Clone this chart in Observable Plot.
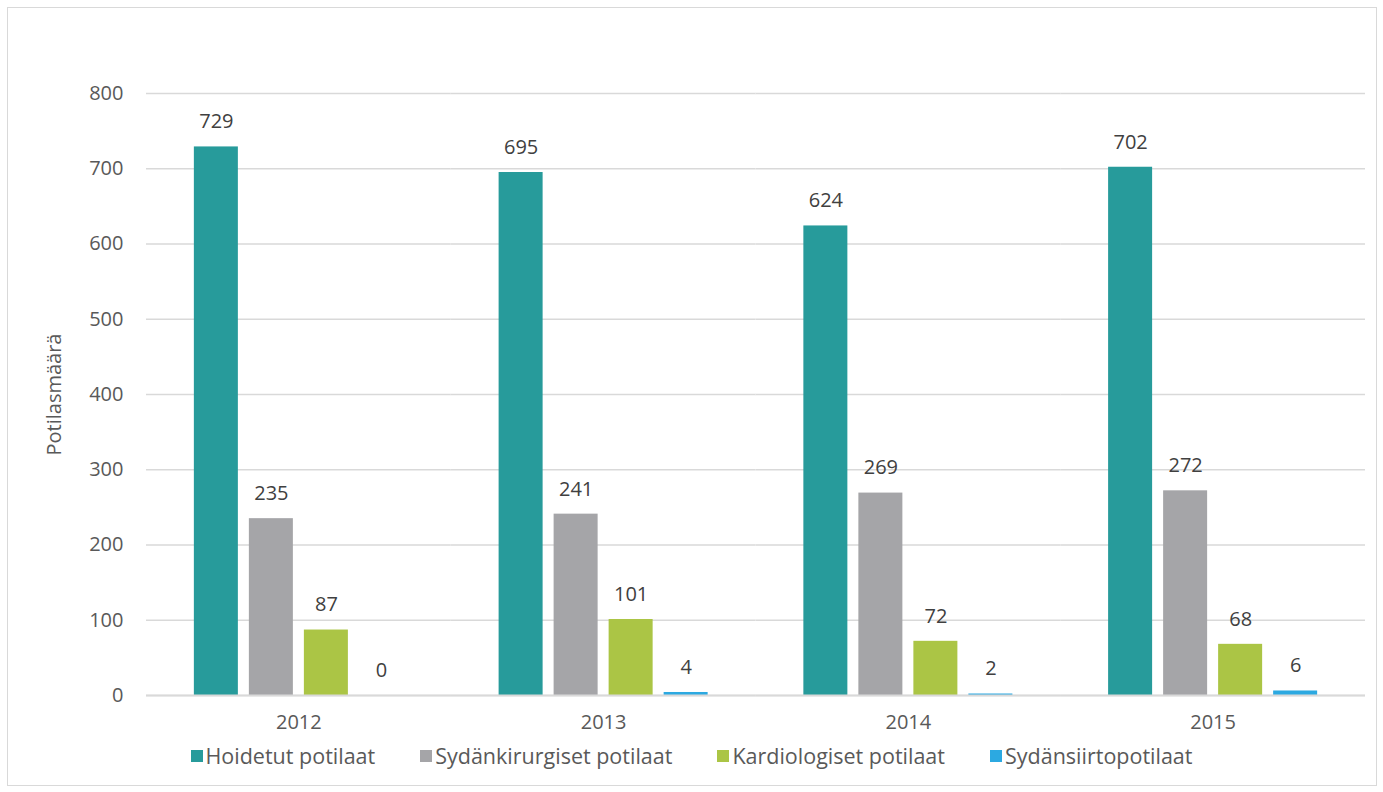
<!DOCTYPE html>
<html><head><meta charset="utf-8">
<script src="https://cdn.jsdelivr.net/npm/d3@7"></script>
<script src="https://cdn.jsdelivr.net/npm/@observablehq/plot@0.6"></script>
<style>
body{margin:0;background:#fff;font-family:"Open Sans",Lato,sans-serif;}
#wrap{position:relative;width:1383px;height:792px;overflow:hidden;}
#frame{position:absolute;left:7px;top:7px;width:1368px;height:777px;border:1.5px solid #d9d9d9;pointer-events:none;}
#legend{display:flex;justify-content:center;gap:45px;font-size:21.5px;color:#595959;padding-top:3px;line-height:26px;}
#legend .item{display:flex;align-items:center;}
#legend .sw{width:12px;height:12px;margin-right:3px;display:inline-block;}
</style></head><body>
<div id="wrap"><div id="chart"></div><div id="legend"></div><div id="frame"></div></div>
<script>
const years = ["2012", "2013", "2014", "2015"];
const series = ["Hoidetut potilaat", "Sydänkirurgiset potilaat", "Kardiologiset potilaat", "Sydänsiirtopotilaat"];
const hoidetut = [729, 695, 624, 702];
const kirurgiset = [235, 241, 269, 272];
const kardiologiset = [87, 101, 72, 68];
const siirto = [0, 4, 2, 6];
const colors = ["#279B9B", "#A5A5A8", "#ABC545", "#2CA9E1"];
const yTicks = [0, 100, 200, 300, 400, 500, 600, 700, 800];

const valuesBySeries = [hoidetut, kirurgiset, kardiologiset, siirto];
const data = [];
years.forEach((yr, i) => series.forEach((s, j) => data.push({year: yr, series: s, value: valuesBySeries[j][i]})));

const plot = Plot.plot({
  width: 1383, height: 740,
  marginLeft: 146, marginRight: 18, marginTop: 93, marginBottom: 45,
  style: {fontFamily: "'Open Sans', Lato, sans-serif", fontSize: "20px", color: "#595959", background: "transparent"},
  fx: {domain: years, padding: 0, label: null, round: false, axis: null},
  x: {domain: series, paddingInner: 0.2, paddingOuter: 0.87, axis: null, round: false},
  y: {domain: [0, 800]},
  color: {domain: series, range: colors},
  marks: [
    Plot.gridY(yTicks, {stroke: "#d9d9d9", strokeOpacity: 1, strokeWidth: 1.3}),
    Plot.axisY(yTicks, {tickSize: 0, tickPadding: 23, label: "Potilasmäärä", labelAnchor: "center", labelArrow: "none", labelOffset: 100, fontSize: 20, fill: "#595959"}),
    Plot.axisFx({anchor: "bottom", tickSize: 0, tickPadding: 19, fontSize: 20, label: null, fill: "#595959"}),
    Plot.barY(data, {fx: "year", x: "series", y: "value", fill: "series"}),
    Plot.ruleY([0], {stroke: "#d9d9d9", strokeWidth: 2}),
    Plot.text(data, {fx: "year", x: "series", y: "value", text: d => String(d.value), dy: -25, fill: "#404040", fontSize: 20})
  ]
});
document.getElementById("chart").appendChild(plot);

const legend = document.getElementById("legend");
series.forEach((s, i) => {
  const it = document.createElement("div"); it.className = "item";
  const sw = document.createElement("span"); sw.className = "sw"; sw.style.background = colors[i];
  it.appendChild(sw); it.appendChild(document.createTextNode(s));
  legend.appendChild(it);
});
</script>
</body></html>
